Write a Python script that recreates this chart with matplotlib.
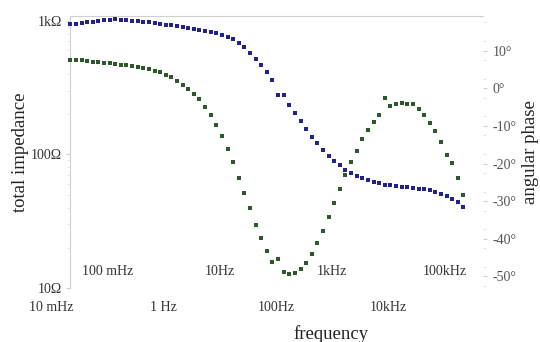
import numpy as np
import matplotlib
matplotlib.use('Agg')
import matplotlib.pyplot as plt
from matplotlib.transforms import blended_transform_factory
from matplotlib.ticker import FixedLocator, NullFormatter

# ---- data ----
# frequency sweep: 71 points, 10 per decade, from 21.6 mHz to 216 kHz
freq = np.geomspace(0.0216, 216000, 71)

impedance = [944, 950, 956, 970, 986, 1002, 1012, 1019, 1021, 1017,
             1010, 1002, 991, 981, 970, 958, 947, 935, 924, 910,
             895, 879, 864, 852, 838, 824, 806, 787, 760, 734,
             682, 634, 577, 518, 470, 413, 361, 276, 276, 235,
             204, 177, 155, 135, 121, 107, 97, 89, 82.6, 76.5,
             72.1, 69.0, 66.7, 64.2, 62.5, 61.0, 58.6, 58.6, 57.9, 57.4,
             57.0, 56.4, 55.4, 54.7, 53.8, 52.6, 50.9, 48.8, 46.7, 44.0,
             40.7]

phase = [7.5, 7.5, 7.4, 7.2, 7.1, 7.0, 6.8, 6.7, 6.5, 6.3,
         6.1, 5.9, 5.6, 5.3, 5.0, 4.6, 4.2, 3.6, 3.0, 2.0,
         0.9, -0.2, -1.5, -2.9, -4.9, -7.1, -9.7, -12.6, -16.2, -19.7,
         -23.8, -27.9, -31.9, -36.3, -39.7, -43.2, -46.1, -45.4, -48.9, -49.4,
         -49.2, -48.0, -46.4, -44.1, -41.2, -37.9, -34.3, -30.6, -26.8, -23.1,
         -19.5, -16.6, -13.5, -11.1, -8.9, -7.2, -2.5, -4.7, -4.2, -3.8,
         -4.2, -4.3, -5.6, -7.1, -9.3, -11.3, -14.2, -17.7, -19.9, -23.8,
         -28.5]

xtick_values = [0.01, 0.1, 1, 10, 100, 1000, 10000, 100000]
xtick_labels = ['10 mHz', '100 mHz', '1 Hz', '10Hz', '100Hz', '1kHz', '10kHz', '100kHz']
ytick_values = [10, 100, 1000]
ytick_labels = ['10Ω', '100Ω', '1kΩ']
ptick_values = [10, 0, -10, -20, -30, -40, -50]
ptick_labels = ['10°', '0°', '-10°', '-20°', '-30°', '-40°', '-50°']

# ---- style ----
plt.rcParams['font.family'] = ['Liberation Serif', 'DejaVu Serif']
blue = '#22228e'
green = '#2c582c'
spine_col = '#cfcfcf'

fig = plt.figure(figsize=(5.4, 3.42), dpi=100)
ax = fig.add_axes([70/540, 1-288/342, 413/540, (288-15.7)/342])
ax2 = ax.twinx()

ax.set_xscale('log')
ax.set_yscale('log')
ax.set_xlim(0.0213, 482000)
ax.set_ylim(10, 1090)
ax2.set_ylim(-53.1, 19.3)

ax.plot(freq, impedance, linestyle='none', marker='s', markersize=2.2,
        color=blue, markeredgewidth=0, clip_on=False, zorder=3)
ax2.plot(freq, phase, linestyle='none', marker='s', markersize=2.2,
         color=green, markeredgewidth=0, clip_on=False, zorder=3)

for a in (ax, ax2):
    for s in ('bottom', 'right'):
        a.spines[s].set_visible(False)
    a.spines['top'].set_color(spine_col)
    a.spines['left'].set_color(spine_col)
ax2.spines['left'].set_visible(False)
ax2.spines['top'].set_visible(False)

# left axis
ax.yaxis.set_major_locator(FixedLocator(ytick_values))
ax.set_yticklabels(ytick_labels)
ax.yaxis.set_minor_locator(FixedLocator([20, 30, 40, 50, 60, 70, 80, 90,
                                          200, 300, 400, 500, 600, 700, 800, 900]))
ax.yaxis.set_minor_formatter(NullFormatter())
ax.tick_params(axis='y', which='major', length=3, color=spine_col,
               labelsize=10, labelcolor='#333333', pad=3)
ax.tick_params(axis='y', which='minor', length=2, color='#e0e0e0')
ax.tick_params(axis='x', which='both', length=0, labelbottom=False)
ax.xaxis.set_minor_formatter(NullFormatter())

# right axis
ax2.yaxis.set_major_locator(FixedLocator(ptick_values))
ax2.set_yticklabels(ptick_labels)
ax2.yaxis.set_minor_locator(FixedLocator(np.arange(-52.5, 19, 5)))
ax2.tick_params(axis='y', which='major', length=3, color=spine_col,
                labelsize=10, labelcolor='#555555', pad=4)
ax2.tick_params(axis='y', which='minor', length=2, color='#e0e0e0')

# staggered frequency labels
trans = blended_transform_factory(ax.transData, ax.transAxes)
for i, (v, lab) in enumerate(zip(xtick_values, xtick_labels)):
    yy = -0.0734 if i % 2 == 0 else 0.0624
    ax.text(v, yy, lab, transform=trans, ha='center', va='center',
            fontsize=10, color='#333333', clip_on=False)

ax.set_ylabel('total impedance', fontsize=13.5, color='#222222', labelpad=1)
ax2.set_ylabel('angular phase', fontsize=13.5, color='#222222', rotation=90, labelpad=4)
fig.text((295+368)/2/540, 1-334/342, 'frequency', ha='center', va='center',
         fontsize=13.5, color='#222222')

fig.savefig('out.png', dpi=100)
